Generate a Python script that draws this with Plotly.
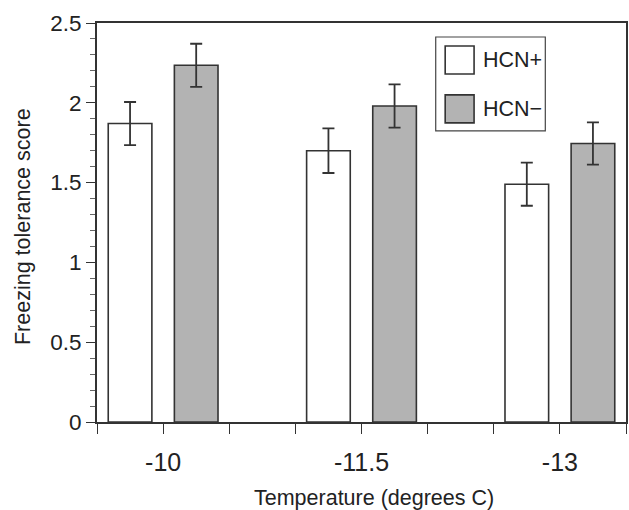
import plotly.graph_objects as go

categories = ["-10", "-11.5", "-13"]
hcn_plus = [1.87, 1.70, 1.49]
hcn_plus_err = [0.135, 0.14, 0.135]
hcn_minus = [2.235, 1.98, 1.745]
hcn_minus_err = [0.135, 0.135, 0.132]

centers = [1 + 3 * i for i in range(len(categories))]
bw = 0.66
edge = "#333333"

fig = go.Figure()
fig.add_trace(go.Bar(
    x=[c - 0.5 for c in centers], y=hcn_plus, width=bw, name="HCN+",
    marker=dict(color="white", line=dict(color=edge, width=1.6)),
    error_y=dict(type="data", array=hcn_plus_err, color=edge, thickness=1.8, width=6),
    showlegend=False,
))
fig.add_trace(go.Bar(
    x=[c + 0.5 for c in centers], y=hcn_minus, width=bw, name="HCN−",
    marker=dict(color="#b3b3b3", line=dict(color=edge, width=1.6)),
    error_y=dict(type="data", array=hcn_minus_err, color=edge, thickness=1.8, width=6),
    showlegend=False,
))

tickvals = list(range(0, 9))
ticktext = [""] * 9
for c, lab in zip(centers, categories):
    ticktext[c] = lab

font = "Liberation Sans, Arial, sans-serif"
fig.update_layout(
    width=629, height=510,
    margin=dict(l=97, r=1, t=23, b=88),
    plot_bgcolor="white", paper_bgcolor="white",
    barmode="overlay",
    font=dict(family=font, color="#222222"),
    xaxis=dict(
        range=[0, 8], tickvals=tickvals, ticktext=ticktext,
        ticks="outside", ticklen=10, tickwidth=1.3, tickcolor=edge,
        showline=True, linewidth=2, linecolor=edge, mirror=True,
        showgrid=False, zeroline=False,
        tickfont=dict(size=25, color="#222222"),
        ticklabelstandoff=7,
    ),
    yaxis=dict(
        range=[0, 2.5], dtick=0.5, tick0=0,
        ticks="outside", ticklen=9, tickwidth=1.3, tickcolor=edge,
        minor=dict(dtick=0.1, ticks="outside", ticklen=5, tickwidth=1, tickcolor="#666666"),
        showline=True, linewidth=2, linecolor=edge, mirror=True,
        showgrid=False, zeroline=False,
        tickfont=dict(size=22.5, color="#222222"),
    ),
)

fig.add_annotation(
    text="Freezing tolerance score", xref="paper", yref="paper",
    x=(22 - 97) / 531, y=(422.5 - 227) / 399.5, xanchor="center", yanchor="middle",
    textangle=-90, showarrow=False,
    font=dict(size=21.5, color="#222222"),
)
fig.add_annotation(
    text="Temperature (degrees C)", xref="paper", yref="paper",
    x=0.523, y=-(499 - 422.5) / 399.5, xanchor="center", yanchor="middle", showarrow=False,
    font=dict(size=21.5, color="#222222"),
)

# legend box
fig.add_shape(type="rect", xref="paper", yref="paper",
              x0=(437 - 97) / 531, x1=(547 - 97) / 531,
              y0=(422.5 - 131) / 399.5, y1=(422.5 - 37) / 399.5,
              line=dict(color="#444444", width=1.2), fillcolor="white")
for i, (nm, col) in enumerate([("HCN+", "white"), ("HCN−", "#b3b3b3")]):
    top = 46 + i * 49
    fig.add_shape(type="rect", xref="paper", yref="paper",
                  x0=(446.5 - 97) / 531, x1=(475.5 - 97) / 531,
                  y0=(422.5 - (top + 28)) / 399.5, y1=(422.5 - top) / 399.5,
                  line=dict(color=edge, width=1.6), fillcolor=col)
    fig.add_annotation(text=nm, xref="paper", yref="paper",
                       x=(482 - 97) / 531, y=(422.5 - (top + 14)) / 399.5,
                       xanchor="left", yanchor="middle", showarrow=False,
                       font=dict(size=21.5, color="#222222"))

fig.write_html("out.html", config={"displayModeBar": False},
               post_script="document.body.style.margin='0px';")
